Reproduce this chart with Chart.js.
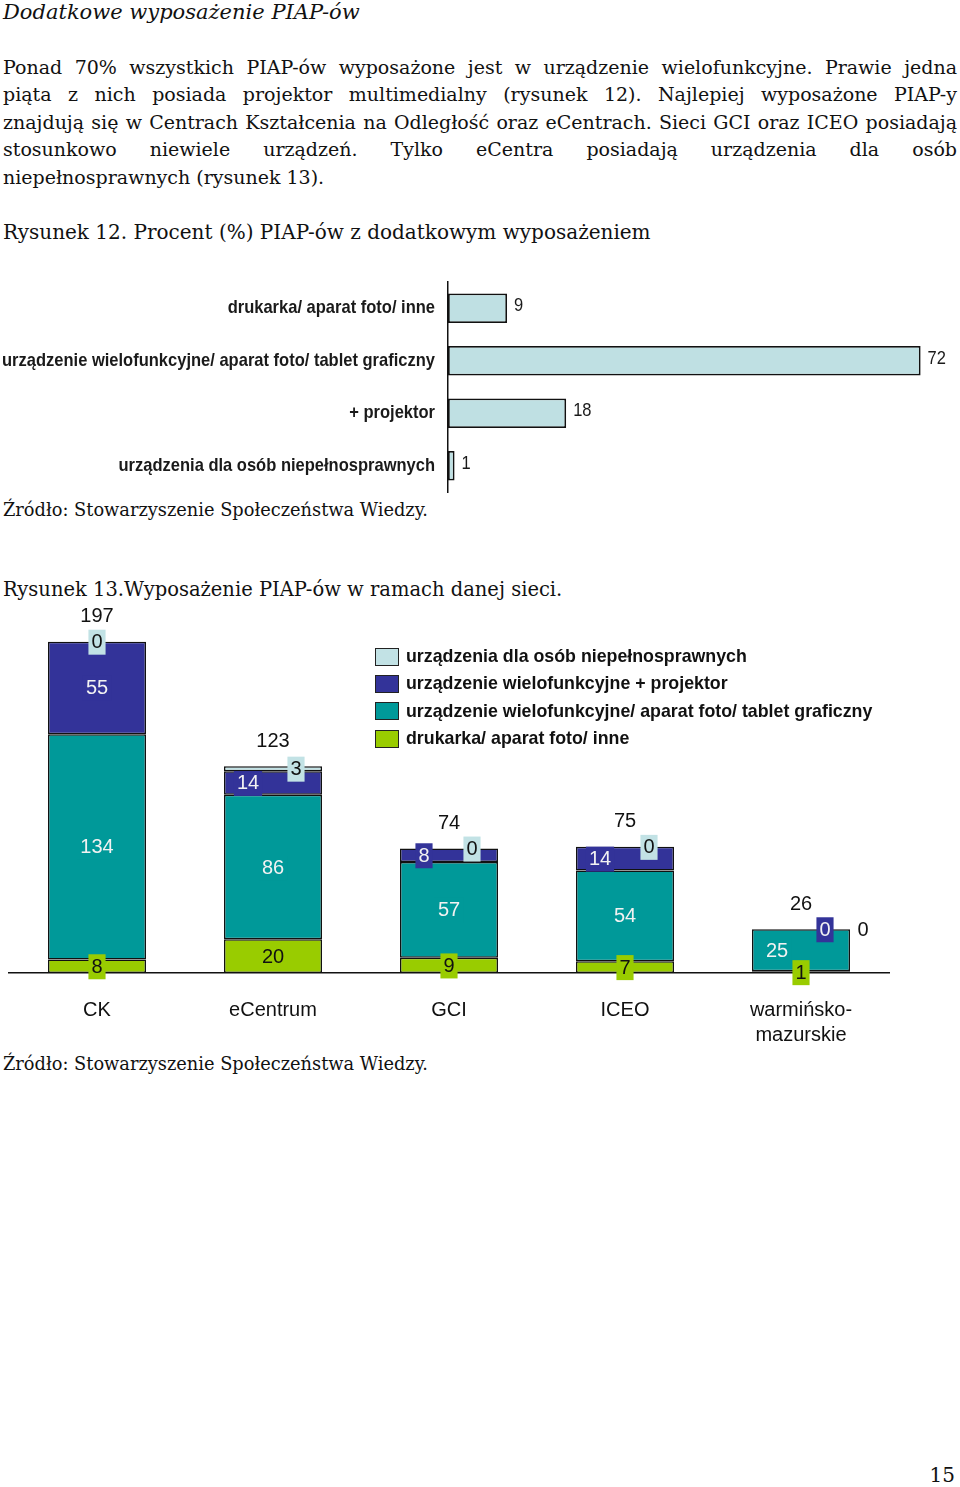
<!DOCTYPE html>
<html lang="pl">
<head>
<meta charset="utf-8">
<script src="https://cdn.jsdelivr.net/npm/chart.js@4.4.1/dist/chart.umd.min.js"></script>
<style>
  html, body { margin: 0; padding: 0; background: #fff; }
  body { width: 960px; height: 1487px; position: relative; overflow: hidden; font-family: 'DejaVu Serif', serif; color: #111; }
  .abs { position: absolute; left: 3px; white-space: nowrap; }
  #title { top: 0; font-style: italic; font-size: 21px; line-height: 24px; }
  #para { position: absolute; left: 3px; top: 54px; width: 954px; font-size: 19px; }
  #para div { line-height: 27.4px; text-align: justify; text-align-last: justify; }
  #para div.last { text-align-last: left; }
  .caption { font-size: 20px; line-height: 26px; }
  .source { font-size: 17.8px; line-height: 24px; }
  #pageNo { position: absolute; top: 1462px; right: 5px; font-size: 20px; line-height: 26px; }
  canvas { position: absolute; left: 0; }
  #fig12 { top: 280px; }
  #fig13 { top: 600px; }
  #legend13 { position: absolute; left: 375px; top: 643px; font-family: 'Liberation Sans', Arial, sans-serif; font-weight: bold; font-size: 17.8px; color: #111; }
  #legend13 .row { height: 27.3px; display: flex; align-items: center; white-space: nowrap; }
  #legend13 .box { width: 22px; height: 16px; border: 1.5px solid #222; margin-right: 7px; }
</style>
</head>
<body>
<div id="title" class="abs">Dodatkowe wyposażenie PIAP-ów</div>
<div id="para">
  <div>Ponad 70% wszystkich PIAP-ów wyposażone jest w urządzenie wielofunkcyjne. Prawie jedna</div>
  <div>piąta z nich posiada projektor multimedialny (rysunek 12). Najlepiej wyposażone PIAP-y</div>
  <div>znajdują się w Centrach Kształcenia na Odległość oraz eCentrach. Sieci GCI oraz ICEO posiadają</div>
  <div>stosunkowo niewiele urządzeń. Tylko eCentra posiadają urządzenia dla osób</div>
  <div class="last">niepełnosprawnych (rysunek 13).</div>
</div>
<div class="abs caption" style="top:219px">Rysunek 12. Procent (%) PIAP-ów z dodatkowym wyposażeniem</div>
<canvas id="fig12" width="960" height="215"></canvas>
<div class="abs source" style="top:498px">Źródło: Stowarzyszenie Społeczeństwa Wiedzy.</div>

<div class="abs caption" style="top:577px; font-size:19.5px">Rysunek 13.Wyposażenie PIAP-ów w ramach danej sieci.</div>
<canvas id="fig13" width="960" height="450"></canvas>
<div id="legend13"></div>
<div class="abs source" style="top:1052px">Źródło: Stowarzyszenie Społeczeństwa Wiedzy.</div>
<div id="pageNo">15</div>

<script>
// Rysunek 12 - percent of PIAPs with extra equipment
const equipmentLabels = [
    'drukarka/ aparat foto/ inne',
    'urządzenie wielofunkcyjne/ aparat foto/ tablet graficzny',
    '+ projektor',
    'urządzenia dla osób niepełnosprawnych'
];
const equipmentPercent = [9, 72, 18, 1];

// Rysunek 13 - equipment per network
const networks = ['CK', 'eCentrum', 'GCI', 'ICEO', ['warmińsko-', 'mazurskie']];
const printerCamera = [8, 20, 9, 7, 1];
const multiCameraTablet = [134, 86, 57, 54, 25];
const multiProjector = [55, 14, 8, 14, 0];
const disabledDevices = [0, 3, 0, 0, 0];

// horizontal nudges of the segment labels (like the moved labels in the original)
const shiftPrinter = [0, 0, 0, 0, 0];
const shiftMulti = [0, 0, 0, 0, -24];
const shiftProjector = [0, -25, -25, -25, 24];
const shiftDisabled = [0, 23, 23, 24, 62];

const sansFont = '"Liberation Sans", Arial, sans-serif';

// the original uses a narrow bold face; squeeze the normal one so the longest label fits
const narrowAxisLabels = {
    id: 'narrowAxisLabels',
    afterDraw(chart) {
        const ctx = chart.ctx;
        const yScale = chart.scales.y;
        const ds = chart.data.datasets[0];
        ctx.save();
        ctx.font = 'bold 19px ' + sansFont;
        const widest = Math.max(...chart.data.labels.map(l => ctx.measureText(l).width));
        const sx = Math.min(1, 433 / widest);
        ctx.fillStyle = '#1a1a1a';
        ctx.textBaseline = 'middle';
        chart.data.labels.forEach((label, i) => {
            ctx.save();
            ctx.translate(yScale.right - 13, yScale.getPixelForTick(i));
            ctx.scale(sx, 1);
            ctx.textAlign = 'right';
            ctx.fillText(label, 0, 0);
            ctx.restore();
        });
        // value labels at the bar ends
        ctx.font = '19px ' + sansFont;
        chart.getDatasetMeta(0).data.forEach((bar, i) => {
            ctx.save();
            ctx.translate(bar.x + 7, bar.y - 2);
            ctx.scale(sx, 1);
            ctx.textAlign = 'left';
            ctx.fillText(String(ds.data[i]), 0, 0);
            ctx.restore();
        });
        ctx.restore();
    }
};

new Chart(document.getElementById('fig12'), {
    type: 'bar',
    data: {
        labels: equipmentLabels,
        datasets: [{
            data: equipmentPercent,
            backgroundColor: '#BFE0E3',
            borderColor: '#111',
            borderWidth: 1.8,
            borderSkipped: false,
            categoryPercentage: 1,
            barPercentage: 0.56
        }]
    },
    options: {
        indexAxis: 'y',
        responsive: false,
        animation: false,
        layout: { padding: { top: 2, bottom: 3, left: 0, right: 0 } },
        plugins: { legend: { display: false }, tooltip: { enabled: false } },
        scales: {
            x: { display: false, min: 0, max: 78 },
            y: {
                grid: { display: false, drawTicks: false },
                border: { color: '#111', width: 1.5 },
                ticks: { display: false },
                afterFit(scale) {
                    scale.width = 448;
                    scale.paddingTop = 0;
                    scale.paddingBottom = 0;
                }
            }
        }
    },
    plugins: [narrowAxisLabels]
});

const stackLabels = {
    id: 'stackLabels',
    afterDatasetsDraw(chart) {
        const ctx = chart.ctx;
        const datasets = chart.data.datasets;
        ctx.save();
        ctx.font = '20px ' + sansFont;
        ctx.textAlign = 'center';
        ctx.textBaseline = 'middle';
        datasets.forEach((ds, di) => {
            chart.getDatasetMeta(di).data.forEach((bar, i) => {
                const text = String(ds.data[i]);
                const x = bar.x + ds.labelShift[i];
                const y = (bar.y + bar.base) / 2;
                const w = ctx.measureText(text).width + 6;
                if (Math.abs(x - bar.x) < bar.width / 2) {
                    ctx.fillStyle = ds.backgroundColor;
                    ctx.fillRect(x - w / 2, y - 12, w, 25);
                }
                ctx.fillStyle = ds.labelColor;
                ctx.fillText(text, x, y + 1);
            });
        });
        // totals above each stack
        const topMeta = chart.getDatasetMeta(datasets.length - 1);
        ctx.fillStyle = '#111';
        topMeta.data.forEach((bar, i) => {
            const total = datasets.reduce((s, ds) => s + ds.data[i], 0);
            ctx.fillText(String(total), bar.x, bar.y - 25);
        });
        ctx.restore();
    }
};

const fig13 = new Chart(document.getElementById('fig13'), {
    type: 'bar',
    data: {
        labels: networks,
        datasets: [
            { label: 'drukarka/ aparat foto/ inne', data: printerCamera, backgroundColor: '#99CC00', labelColor: '#111', labelShift: shiftPrinter },
            { label: 'urządzenie wielofunkcyjne/ aparat foto/ tablet graficzny', data: multiCameraTablet, backgroundColor: '#009999', labelColor: '#f2f2f2', labelShift: shiftMulti },
            { label: 'urządzenie wielofunkcyjne + projektor', data: multiProjector, backgroundColor: '#333399', labelColor: '#f2f2f2', labelShift: shiftProjector },
            { label: 'urządzenia dla osób niepełnosprawnych', data: disabledDevices, backgroundColor: '#C2E2E5', labelColor: '#111', labelShift: shiftDisabled }
        ]
    },
    options: {
        responsive: false,
        animation: false,
        datasets: {
            bar: { borderColor: '#111', borderWidth: 1.5, borderSkipped: false, categoryPercentage: 1, barPercentage: 0.557 }
        },
        layout: { padding: { top: 3, left: 9, right: 71, bottom: 0 } },
        plugins: { legend: { display: false }, tooltip: { enabled: false } },
        scales: {
            x: {
                stacked: true,
                grid: { display: false, drawTicks: false },
                border: { color: '#111', width: 1.5 },
                ticks: { color: '#111', padding: 25, maxRotation: 0, autoSkip: false, font: { family: sansFont, size: 20, lineHeight: 1.25 } },
                afterFit(scale) { scale.height = 77; }
            },
            y: { stacked: true, display: false, min: 0, max: 220 }
        }
    },
    plugins: [stackLabels]
});

// legend, top series first
const legendEl = document.getElementById('legend13');
fig13.data.datasets.slice().reverse().forEach(ds => {
    const row = document.createElement('div');
    row.className = 'row';
    const box = document.createElement('span');
    box.className = 'box';
    box.style.background = ds.backgroundColor;
    const txt = document.createElement('span');
    txt.textContent = ds.label;
    row.appendChild(box);
    row.appendChild(txt);
    legendEl.appendChild(row);
});
</script>
</body>
</html>
